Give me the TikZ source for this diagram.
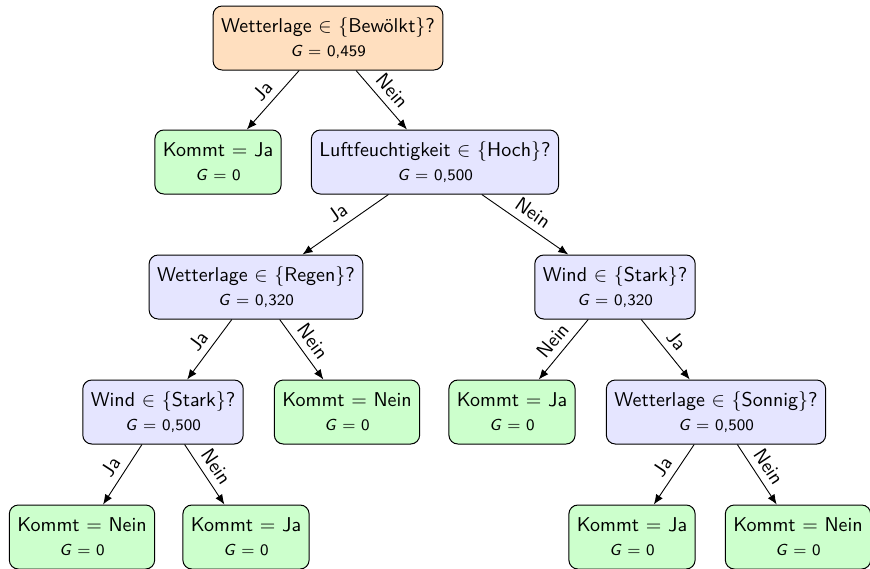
\documentclass[tikz,border=0pt]{standalone}
\usetikzlibrary{arrows.meta}
\begin{document}
\begin{tikzpicture}[x=0.5pt,y=-0.5pt,
  font=\sffamily,
  box/.style={draw, rounded corners=4.5pt, align=center, minimum height=32pt, inner xsep=4pt, line width=0.5pt},
  qnode/.style={box, fill=blue!10},
  rootnode/.style={box, fill=orange!25},
  leaf/.style={box, fill=green!20},
  conn/.style={-{Latex[length=5pt,width=4pt]}, line width=0.45pt},
  lbl/.style={midway, sloped, above, font=\sffamily}
]
\useasboundingbox (0,0) rectangle (870,568);
\newcommand{\gval}[1]{{\footnotesize\textit{G} $=$ #1}}
\node[rootnode] (root) at (328,38) {Wetterlage $\in$ \{Bewölkt\}?\\\gval{0,459}};
\node[leaf] (l1) at (218,162) {Kommt $=$ Ja\\\gval{0}};
\node[qnode] (luft) at (435,162) {Luftfeuchtigkeit $\in$ \{Hoch\}?\\\gval{0,500}};
\node[qnode] (regen) at (256,287) {Wetterlage $\in$ \{Regen\}?\\\gval{0,320}};
\node[qnode] (windr) at (615,287) {Wind $\in$ \{Stark\}?\\\gval{0,320}};
\node[qnode] (windl) at (163,412) {Wind $\in$ \{Stark\}?\\\gval{0,500}};
\node[leaf] (l2) at (347,412) {Kommt $=$ Nein\\\gval{0}};
\node[leaf] (l3) at (512,412) {Kommt $=$ Ja\\\gval{0}};
\node[qnode] (sonnig) at (716,412) {Wetterlage $\in$ \{Sonnig\}?\\\gval{0,500}};
\node[leaf] (l4) at (82,537) {Kommt $=$ Nein\\\gval{0}};
\node[leaf] (l5) at (246,537) {Kommt $=$ Ja\\\gval{0}};
\node[leaf] (l6) at (632,537) {Kommt $=$ Ja\\\gval{0}};
\node[leaf] (l7) at (798,537) {Kommt $=$ Nein\\\gval{0}};
\draw[conn] (root) -- node[lbl] {Ja} (l1);
\draw[conn] (root) -- node[lbl] {Nein} (luft);
\draw[conn] (luft) -- node[lbl] {Ja} (regen);
\draw[conn] (luft) -- node[lbl] {Nein} (windr);
\draw[conn] (regen) -- node[lbl] {Ja} (windl);
\draw[conn] (regen) -- node[lbl] {Nein} (l2);
\draw[conn] (windr) -- node[lbl] {Nein} (l3);
\draw[conn] (windr) -- node[lbl] {Ja} (sonnig);
\draw[conn] (windl) -- node[lbl] {Ja} (l4);
\draw[conn] (windl) -- node[lbl] {Nein} (l5);
\draw[conn] (sonnig) -- node[lbl] {Ja} (l6);
\draw[conn] (sonnig) -- node[lbl] {Nein} (l7);
\end{tikzpicture}
\end{document}
